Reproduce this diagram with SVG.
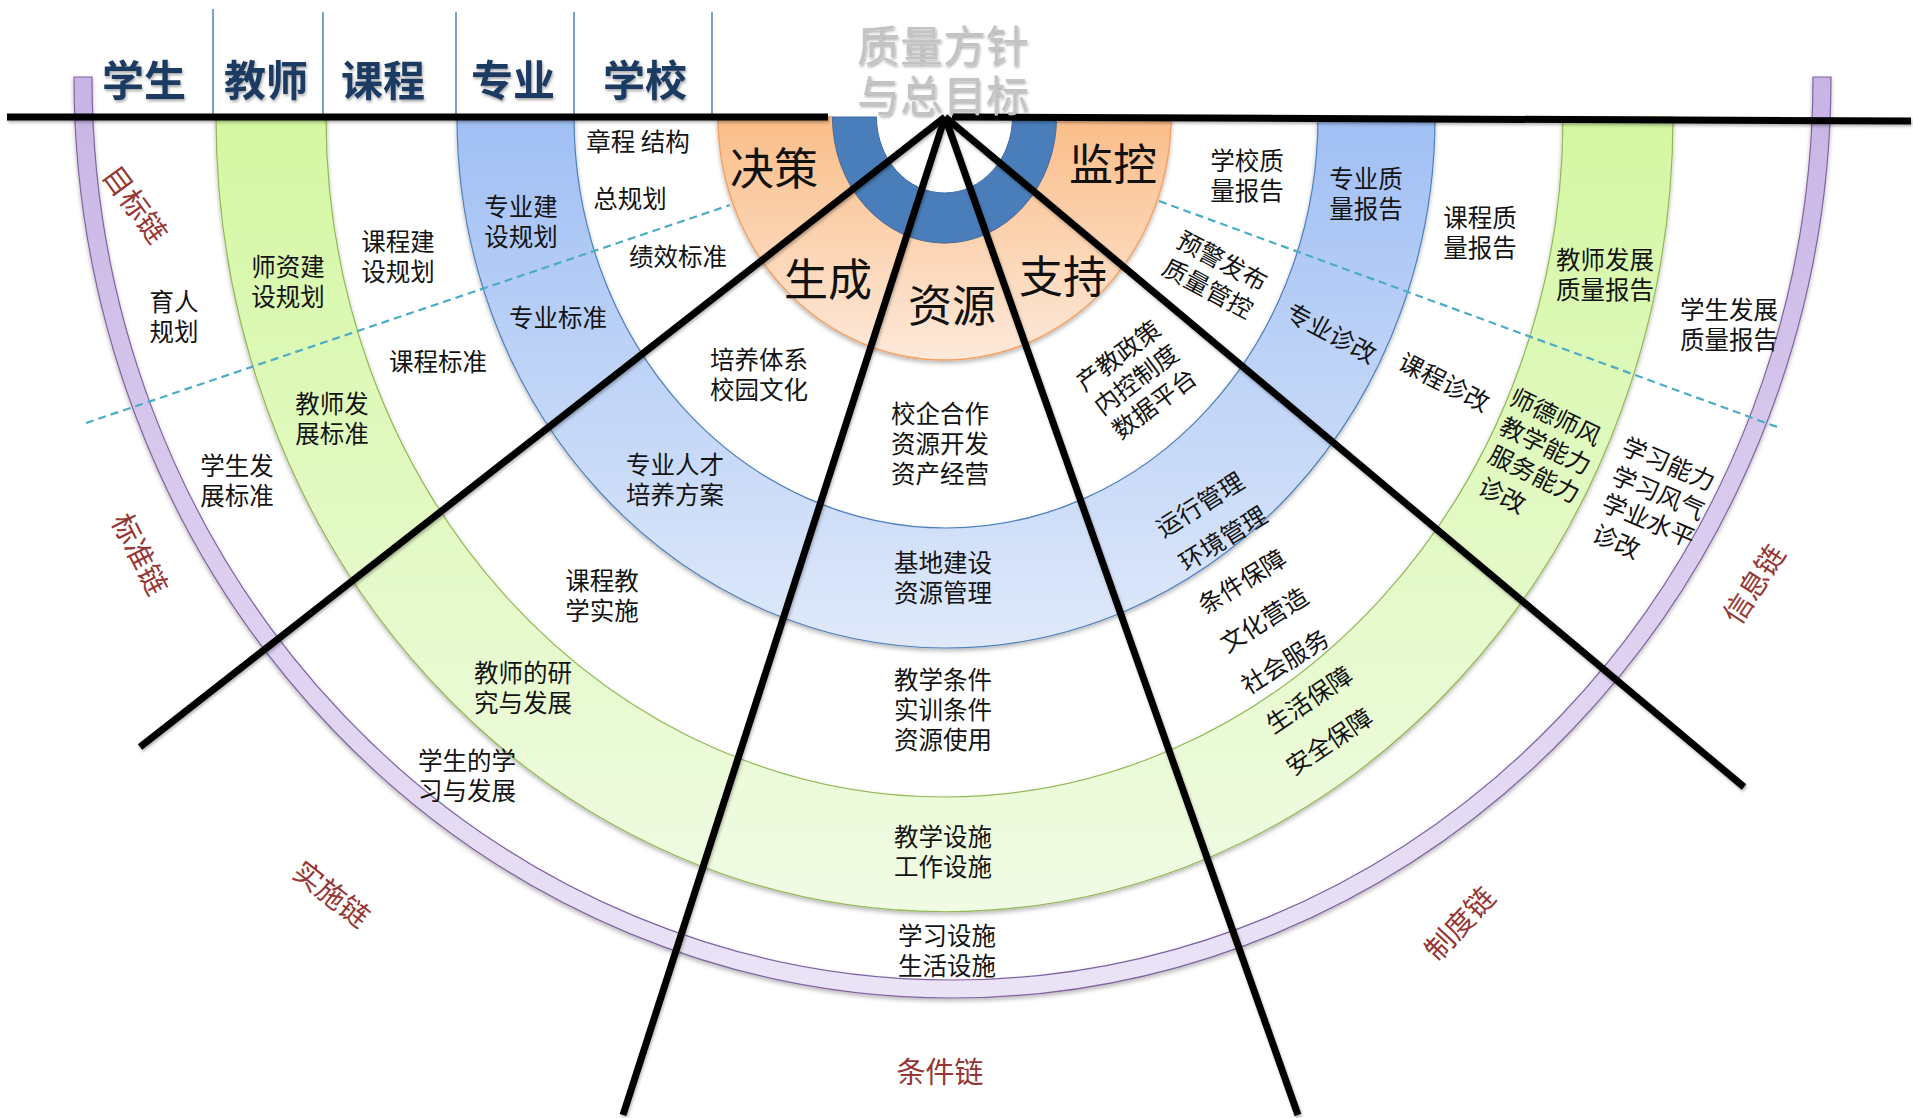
<svg xmlns="http://www.w3.org/2000/svg" width="1913" height="1118" viewBox="0 0 1913 1118">
<defs>
<linearGradient id="gPurple" gradientUnits="userSpaceOnUse" x1="0" y1="77" x2="0" y2="1000"><stop offset="0" stop-color="#c8b4e5"/><stop offset="1" stop-color="#ebe4f7"/></linearGradient>
<linearGradient id="gGreen" gradientUnits="userSpaceOnUse" x1="0" y1="117" x2="0" y2="912"><stop offset="0" stop-color="#d4f7a2"/><stop offset="1" stop-color="#f0fbe4"/></linearGradient>
<linearGradient id="gBlue" gradientUnits="userSpaceOnUse" x1="0" y1="117" x2="0" y2="648"><stop offset="0" stop-color="#a0bff4"/><stop offset="1" stop-color="#dfe9fa"/></linearGradient>
<linearGradient id="gOrange" gradientUnits="userSpaceOnUse" x1="0" y1="117" x2="0" y2="360"><stop offset="0" stop-color="#fabd88"/><stop offset="1" stop-color="#fde9da"/></linearGradient>
<filter id="sh" x="-5%" y="-5%" width="110%" height="115%"><feDropShadow dx="0" dy="2.5" stdDeviation="2" flood-color="#000" flood-opacity="0.28"/></filter>
<filter id="tsh" x="-10%" y="-10%" width="120%" height="130%"><feDropShadow dx="1" dy="2" stdDeviation="1.5" flood-color="#000" flood-opacity="0.35"/></filter>
<filter id="lsh" x="-5%" y="-5%" width="110%" height="110%"><feDropShadow dx="1" dy="2" stdDeviation="1.5" flood-color="#000" flood-opacity="0.3"/></filter>
</defs>
<style>
text { font-family: 'Noto Sans CJK SC', 'Noto Sans', sans-serif; dominant-baseline: central; text-anchor: middle; }
.t { font-size: 24.5px; fill: #141414; }
.big { font-size: 44px; fill: #111; }
.top { font-size: 42px; font-weight: 700; fill: #1f3b63; }
.title { font-size: 43px; fill: #c3c3c3; }
.red { font-size: 29px; fill: #953735; }
.ring { filter: url(#sh); }
.sep { stroke: #4f81bd; stroke-width: 1.5; fill: none; }
.bl { stroke: #000; stroke-width: 7; fill: none; }
.dash { stroke: #4bacc6; stroke-width: 2.2; stroke-dasharray: 8 5; fill: none; }
</style>
<rect width="1913" height="1118" fill="#fff"/>

<g id="rings">
<path id="ring-student" class="ring" d="M74,77 A878.5,921 0 0 0 1831,77 L1813,77 A860.5,903 0 0 1 92,77 Z" fill="url(#gPurple)" stroke="#8064a2" stroke-width="1.2"/>
<path id="ring-teacher" class="ring" d="M216,117 A728.5,795 0 0 0 1673,117 L1563,117 A618.5,680 0 0 1 326,117 Z" fill="url(#gGreen)" stroke="#92b954" stroke-width="1.2"/>
<path id="ring-major" class="ring" d="M457,117 A489,531 0 0 0 1435,117 L1318,117 A372,411 0 0 1 574,117 Z" fill="url(#gBlue)" stroke="#4f81bd" stroke-width="1.2"/>
<path id="ring-school" class="ring" d="M718,117 A226.5,243 0 0 0 1171,117 L1056.5,117 A112,126 0 0 1 832.5,117 Z" fill="url(#gOrange)" stroke="#f4a366" stroke-width="1.5"/>
<path id="ring-core" d="M832.5,117 A112,126 0 0 0 1056.5,117 L1012.5,117 A68,76 0 0 1 876.5,117 Z" fill="#4a7ebb" stroke="#3f6da6" stroke-width="1"/>
</g>

<g id="connectors">
<line class="dash" x1="86" y1="423" x2="730" y2="205"/>
<line class="dash" x1="1159" y1="201" x2="1780" y2="428"/>
<line class="sep" x1="213" y1="9" x2="213" y2="117"/>
<line class="sep" x1="323" y1="12" x2="323" y2="117"/>
<line class="sep" x1="456" y1="12" x2="456" y2="117"/>
<line class="sep" x1="574" y1="12" x2="574" y2="117"/>
<line class="sep" x1="712" y1="12" x2="712" y2="117"/>
<g filter="url(#lsh)">
<line class="bl" x1="7" y1="117" x2="828" y2="117"/>
<line class="bl" x1="952" y1="117" x2="1911" y2="121"/>
<line class="bl" x1="945" y1="117" x2="140" y2="747"/>
<line class="bl" x1="945" y1="117" x2="623" y2="1115"/>
<line class="bl" x1="945" y1="117" x2="1298" y2="1115"/>
<line class="bl" x1="945" y1="117" x2="1744" y2="787"/>
</g>
</g>

<g id="title"><text class="title" filter="url(#tsh)"><tspan x="943" y="43">质量方针</tspan><tspan x="943" y="93">与总目标</tspan></text></g>

<g id="headers" filter="url(#tsh)">
<g id="h-student"><text class="top" x="144" y="77">学生</text></g>
<g id="h-teacher"><text class="top" x="266" y="77">教师</text></g>
<g id="h-course"><text class="top" x="383" y="77">课程</text></g>
<g id="h-major"><text class="top" x="513" y="77">专业</text></g>
<g id="h-school"><text class="top" x="645" y="77">学校</text></g>
</g>

<g id="core-labels">
<g id="n-juece"><text class="big" x="774" y="166">决策</text></g>
<g id="n-jiankong"><text class="big" x="1113" y="162">监控</text></g>
<g id="n-shengcheng"><text class="big" x="828" y="277">生成</text></g>
<g id="n-ziyuan"><text class="big" x="952" y="303">资源</text></g>
<g id="n-zhichi"><text class="big" x="1063" y="274">支持</text></g>
</g>

<g id="chains">
<g id="c-mubiao"><text class="red" transform="translate(137 203) rotate(54)">目标链</text></g>
<g id="c-biaozhun"><text class="red" transform="translate(142 553) rotate(63)">标准链</text></g>
<g id="c-shishi"><text class="red" transform="translate(333 892) rotate(38)">实施链</text></g>
<g id="c-tiaojian"><text class="red" x="940" y="1070">条件链</text></g>
<g id="c-zhidu"><text class="red" transform="translate(1458 922) rotate(-47)">制度链</text></g>
<g id="c-xinxi"><text class="red" transform="translate(1752 583) rotate(-57)">信息链</text></g>
</g>

<g id="left-texts">
<g id="n-yuren"><text class="t"><tspan x="174" y="300">育人</tspan><tspan x="174" y="330">规划</tspan></text></g>
<g id="n-shizi"><text class="t"><tspan x="288" y="265">师资建</tspan><tspan x="288" y="295">设规划</tspan></text></g>
<g id="n-kcjs"><text class="t"><tspan x="398" y="240">课程建</tspan><tspan x="398" y="270">设规划</tspan></text></g>
<g id="n-kcbz"><text class="t" x="438" y="360">课程标准</text></g>
<g id="n-jsfzbz"><text class="t"><tspan x="332" y="402">教师发</tspan><tspan x="332" y="432">展标准</tspan></text></g>
<g id="n-xsfzbz"><text class="t"><tspan x="237" y="464">学生发</tspan><tspan x="237" y="494">展标准</tspan></text></g>
<g id="n-kcjx"><text class="t"><tspan x="602" y="579">课程教</tspan><tspan x="602" y="609">学实施</tspan></text></g>
<g id="n-jsyj"><text class="t"><tspan x="523" y="671">教师的研</tspan><tspan x="523" y="701">究与发展</tspan></text></g>
<g id="n-xsxx"><text class="t"><tspan x="467" y="759">学生的学</tspan><tspan x="467" y="789">习与发展</tspan></text></g>
<g id="n-zyjs"><text class="t"><tspan x="521" y="205">专业建</tspan><tspan x="521" y="235">设规划</tspan></text></g>
<g id="n-zybz"><text class="t" x="558" y="316">专业标准</text></g>
<g id="n-zyrc"><text class="t"><tspan x="675" y="463">专业人才</tspan><tspan x="675" y="493">培养方案</tspan></text></g>
<g id="n-zhangcheng"><text class="t" x="638" y="140">章程 结构</text></g>
<g id="n-zgh"><text class="t" x="630" y="197">总规划</text></g>
<g id="n-jxbz"><text class="t" x="678" y="255">绩效标准</text></g>
<g id="n-pytx"><text class="t"><tspan x="759" y="358">培养体系</tspan><tspan x="759" y="388">校园文化</tspan></text></g>
</g>

<g id="center-texts">
<g id="n-xqhz"><text class="t"><tspan x="940" y="412">校企合作</tspan><tspan x="940" y="442">资源开发</tspan><tspan x="940" y="472">资产经营</tspan></text></g>
<g id="n-jdjs"><text class="t"><tspan x="943" y="561">基地建设</tspan><tspan x="943" y="591">资源管理</tspan></text></g>
<g id="n-jxtj"><text class="t"><tspan x="943" y="678">教学条件</tspan><tspan x="943" y="708">实训条件</tspan><tspan x="943" y="738">资源使用</tspan></text></g>
<g id="n-jxss"><text class="t"><tspan x="943" y="835">教学设施</tspan><tspan x="943" y="865">工作设施</tspan></text></g>
<g id="n-xxss"><text class="t"><tspan x="947" y="934">学习设施</tspan><tspan x="947" y="964">生活设施</tspan></text></g>
</g>

<g id="right-texts">
<g id="n-xxzl"><text class="t"><tspan x="1247" y="159">学校质</tspan><tspan x="1247" y="189">量报告</tspan></text></g>
<g id="n-zyzl"><text class="t"><tspan x="1366" y="177">专业质</tspan><tspan x="1366" y="207">量报告</tspan></text></g>
<g id="n-kczl"><text class="t"><tspan x="1480" y="216">课程质</tspan><tspan x="1480" y="246">量报告</tspan></text></g>
<g id="n-jsfzzl"><text class="t"><tspan x="1605" y="258">教师发展</tspan><tspan x="1605" y="288">质量报告</tspan></text></g>
<g id="n-xsfzzl"><text class="t"><tspan x="1729" y="308">学生发展</tspan><tspan x="1729" y="338">质量报告</tspan></text></g>
<g id="n-yjfb"><text class="t" transform="translate(1216 273) rotate(28)"><tspan x="0" y="-15.5">预警发布</tspan><tspan x="0" y="15.5">质量管控</tspan></text></g>
<g id="n-cjzc"><text class="t" transform="translate(1135 378) rotate(-37)"><tspan x="0" y="-30">产教政策</tspan><tspan x="0" y="0">内控制度</tspan><tspan x="0" y="30">数据平台</tspan></text></g>
<g id="n-zyzg"><text class="t" transform="translate(1332 332) rotate(28)">专业诊改</text></g>
<g id="n-yxgl"><text class="t" transform="translate(1199 503) rotate(-32)"><tspan x="0" y="0">运行管理</tspan><tspan x="1.5" y="41">环境管理</tspan></text></g>
<g id="n-tjbz"><text class="t" transform="translate(1241 580) rotate(-32)"><tspan x="0" y="0">条件保障</tspan><tspan x="-1.5" y="44">文化营造</tspan><tspan x="-6" y="90.5">社会服务</tspan></text></g>
<g id="n-shbz"><text class="t" transform="translate(1308 698) rotate(-34)"><tspan x="0" y="0">生活保障</tspan><tspan x="-7" y="46">安全保障</tspan></text></g>
<g id="n-kczg"><text class="t" transform="translate(1445 381) rotate(27)">课程诊改</text></g>
<g id="n-sdsf"><text class="t" transform="translate(1556.5 415) rotate(26)"><tspan x="0" y="0">师德师风</tspan><tspan x="3.5" y="30.5">教学能力</tspan><tspan x="6" y="61">服务能力</tspan><tspan x="-13.5" y="94">诊改</tspan></text></g>
<g id="n-xxnl"><text class="t" transform="translate(1669.5 462) rotate(23)"><tspan x="0" y="0">学习能力</tspan><tspan x="2" y="31">学习风气</tspan><tspan x="3.5" y="60">学业水平</tspan><tspan x="-18" y="92">诊改</tspan></text></g>
</g>
</svg>
